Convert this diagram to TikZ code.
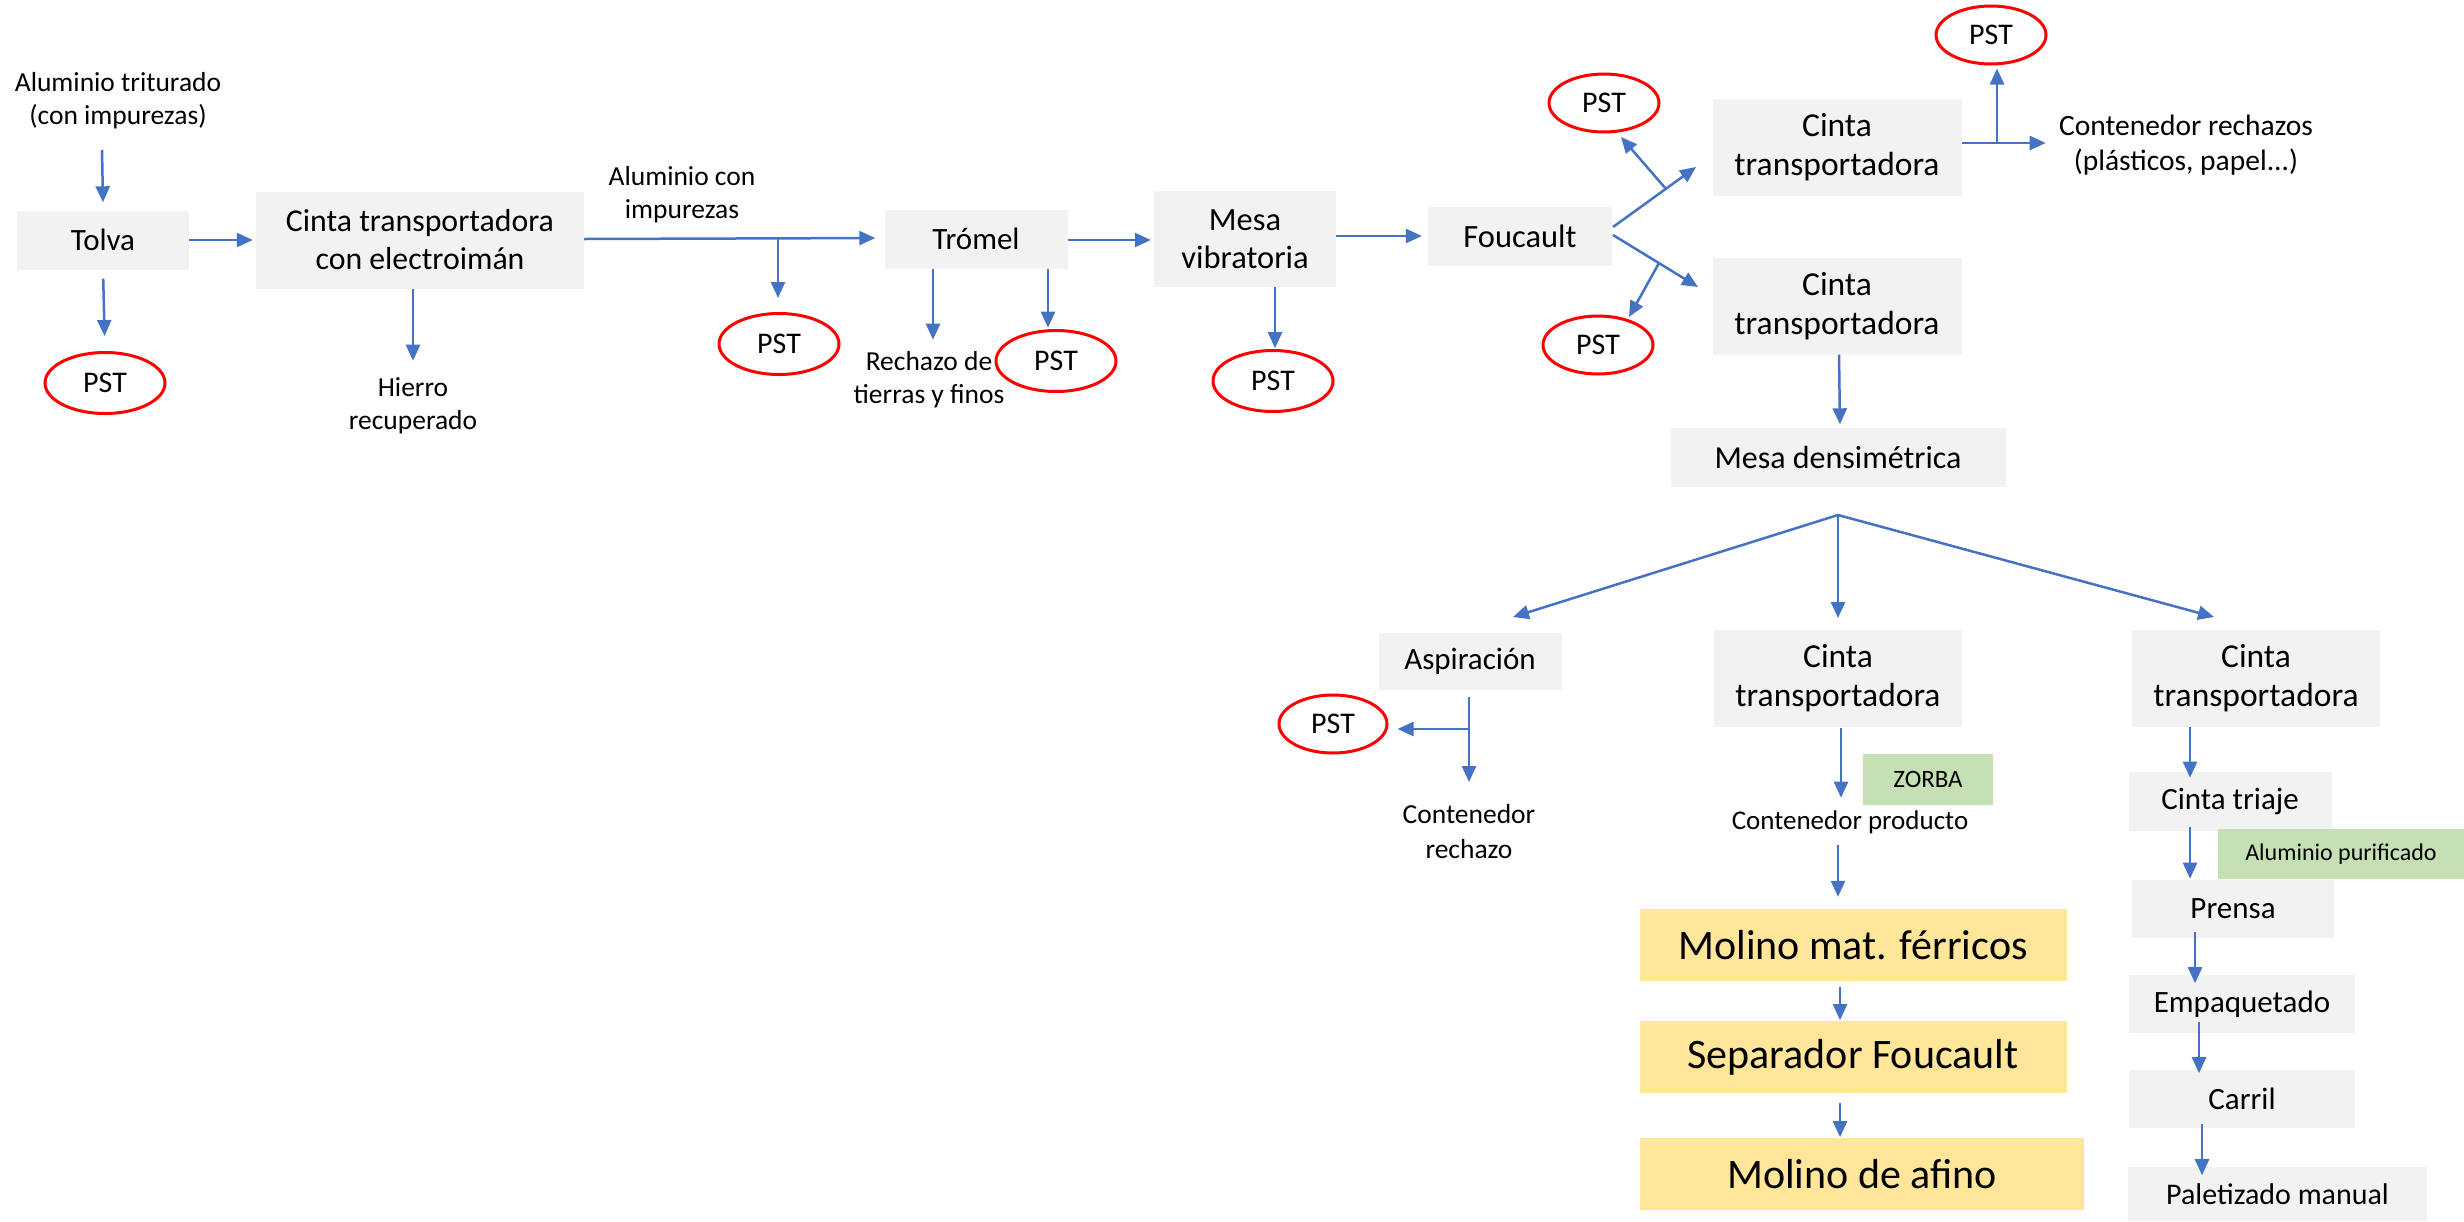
\documentclass[tikz,border=0pt]{standalone}
\usepackage{fontspec}
\setmainfont{Carlito}
\usetikzlibrary{arrows.meta,shapes.geometric}
\definecolor{boxgray}{HTML}{F2F2F2}
\definecolor{arrblue}{HTML}{4472C4}
\definecolor{pstred}{HTML}{FF0000}
\definecolor{yelbox}{HTML}{FFE699}
\definecolor{grnbox}{HTML}{C5E0B4}
\begin{document}
\begin{tikzpicture}[x=1pt,y=-1pt,
  box/.style={fill=boxgray, inner sep=0pt, align=center, font=\fontsize{31}{37}\selectfont},
  cbox/.style={box, font=\fontsize{33.5}{39}\selectfont},
  ybox/.style={fill=yelbox, inner sep=0pt, align=center, font=\fontsize{42}{50}\selectfont},
  gbox/.style={fill=grnbox, inner sep=0pt, align=center},
  pst/.style={ellipse, draw=pstred, line width=3pt, inner sep=0pt, font=\fontsize{30}{36}\selectfont},
  lbl/.style={inner sep=0pt, align=center, font=\fontsize{27.5}{33}\selectfont},
  arr/.style={draw=arrblue, line width=2.5pt, -{Triangle[length=16pt,width=14pt]}}]
\useasboundingbox (0,0) rectangle (2464,1221);

% ---- boxes ----
\node[box, minimum width=172pt, minimum height=59pt] (tolva) at (103,240) {Tolva};
\node[box, font=\fontsize{31.8}{38}\selectfont, minimum width=328pt, minimum height=97pt] (cinta1) at (420,240) {Cinta transportadora\\con electroimán};
\node[box, minimum width=183pt, minimum height=59pt] (tromel) at (976,239) {Trómel};
\node[box, font=\fontsize{32.5}{38}\selectfont, minimum width=182pt, minimum height=96pt] (mesa) at (1245,239) {Mesa\\vibratoria};
\node[box, font=\fontsize{32.5}{38}\selectfont, minimum width=184pt, minimum height=59pt] (foucault) at (1520,236) {Foucault};
\node[cbox, minimum width=249pt, minimum height=97pt] (cintaA) at (1837,147) {Cinta\\transportadora};
\node[cbox, minimum width=249pt, minimum height=97pt] (cintaB) at (1837,306) {Cinta\\transportadora};
\node[box, font=\fontsize{32}{38}\selectfont, minimum width=335pt, minimum height=59pt] (densi) at (1838,457) {Mesa densimétrica};
\node[box, minimum width=183pt, minimum height=57pt] (aspir) at (1470,661) {Aspiración};
\node[cbox, minimum width=248pt, minimum height=97pt] (cintaC) at (1838,678) {Cinta\\transportadora};
\node[cbox, minimum width=248pt, minimum height=97pt] (cintaD) at (2256,678) {Cinta\\transportadora};
\node[box, minimum width=203pt, minimum height=59pt] (triaje) at (2230,801) {Cinta triaje};
\node[gbox, minimum width=247pt, minimum height=50pt, font=\fontsize{24}{29}\selectfont] (alpur) at (2341,854) {Aluminio purificado};
\node[box, minimum width=202pt, minimum height=58pt] (prensa) at (2233,909) {Prensa};
\node[box, minimum width=226pt, minimum height=58pt] (empaq) at (2242,1004) {Empaquetado};
\node[box, minimum width=226pt, minimum height=58pt] (carril) at (2242,1099) {Carril};
\node[box, font=\fontsize{30}{36}\selectfont, minimum width=299pt, minimum height=54pt, text depth=0pt] (palet) at (2277.5,1194) {Paletizado manual};
\node[gbox, minimum width=130pt, minimum height=51pt, font=\fontsize{25}{30}\selectfont] (zorba) at (1928,779) {ZORBA};
\node[ybox, minimum width=427pt, minimum height=72pt] (molino1) at (1853,945) {Molino mat. férricos};
\node[ybox, minimum width=427pt, minimum height=72pt] (separ) at (1853,1057) {Separador Foucault};
\node[ybox, minimum width=444pt, minimum height=72pt] (molino2) at (1862,1174) {Molino de afino};

% ---- PST ellipses ----
\node[pst, minimum width=120pt, minimum height=61pt] (pst1) at (105,383) {PST};
\node[pst, minimum width=120pt, minimum height=61pt] (pst2) at (779,344) {PST};
\node[pst, minimum width=120pt, minimum height=61pt] (pst3) at (1056,361) {PST};
\node[pst, minimum width=120pt, minimum height=61pt] (pst4) at (1273,381) {PST};
\node[pst, minimum width=110pt, minimum height=58pt] (pst5) at (1604,103) {PST};
\node[pst, minimum width=110pt, minimum height=58pt] (pst6) at (1598,345) {PST};
\node[pst, minimum width=110pt, minimum height=58pt] (pst7) at (1991,35) {PST};
\node[pst, minimum width=108pt, minimum height=58pt] (pst8) at (1333,724) {PST};

% ---- free labels ----
\node[lbl] (altri) at (118,101) {Aluminio triturado\\(con impurezas)};
\node[lbl] (hierro) at (413,406) {Hierro\\recuperado};
\node[lbl] (alcon) at (682,195) {Aluminio con\\impurezas};
\node[lbl] (rechazo) at (929,380) {Rechazo de\\tierras y finos};
\node[lbl, font=\fontsize{29.5}{35}\selectfont] (contrech) at (2186,145) {Contenedor rechazos\\(plásticos, papel...)};
\node[lbl, font=\fontsize{27.5}{35}\selectfont] (contr2) at (1469,832) {Contenedor\\rechazo};
\node[lbl, font=\fontsize{27}{32}\selectfont] (contprod) at (1850,822) {Contenedor producto};

% ---- coordinates ----
\coordinate (inA) at (102,150);
\coordinate (br1) at (778,239);
\coordinate (fuA) at (1613,227);
\coordinate (fuAe) at (1696,167);
\coordinate (brA) at (1666,189);
\coordinate (brAe) at (1621,137);
\coordinate (fuB) at (1613,235);
\coordinate (fuBe) at (1698,287);
\coordinate (brB) at (1659,263);
\coordinate (brBe) at (1629,317);
\coordinate (br2) at (1997,143);
\coordinate (apex) at (1838,515);
\coordinate (apL) at (1513,617);
\coordinate (apM) at (1838,618);
\coordinate (apR) at (2214,617);
\coordinate (asp1) at (1469,697);
\coordinate (br3) at (1469,729);
\coordinate (prod1) at (1838,845);

% ---- connectors ----
\draw[arr] (inA) -- ([yshift=8pt]tolva.north);
\draw[arr, shorten <=9pt, shorten >=15pt] (tolva.south) -- (pst1.north);
\draw[arr, shorten >=3pt] (tolva.east) -- (cinta1.west);
\draw[arr] ([xshift=-7pt]cinta1.south) -- ++(0,72);
\draw[arr, shorten >=9pt] ([yshift=1pt]cinta1.east) -- ([yshift=1pt]tromel.west);
\draw[arr, shorten >=14pt] (br1) -- (br1 |- pst2.north);
\draw[arr] ([xshift=-43pt]tromel.south) -- ++(0,71);
\draw[arr] ([xshift=72pt]tromel.south) -- ++(0,59);
\draw[arr, shorten >=3pt] ([yshift=-1pt]tromel.east) -- ([yshift=-1pt]mesa.west);
\draw[arr] ([xshift=30pt]mesa.south) -- ++(0,61);
\draw[arr, shorten >=6pt] (mesa.east |- foucault.west) -- (foucault.west);
\draw[arr] (fuA) -- (fuAe);
\draw[arr] (brA) -- (brAe);
\draw[arr] (fuB) -- (fuBe);
\draw[arr] (brB) -- (brBe);
\draw[arr] ([yshift=4pt]cintaA.east) -- ++(84,0);
\draw[arr, shorten >=3pt] (br2) -- (br2 |- pst7.south);
\draw[arr, shorten >=3pt] ([xshift=2pt]cintaB.south) -- ([xshift=2pt]densi.north);
\draw[arr] (apex) -- (apL);
\draw[arr] (apex) -- (apM);
\draw[arr] (apex) -- (apR);
\draw[arr] (asp1) -- ++(0,85);
\draw[arr, shorten >=9pt] (br3) -- (br3 -| pst8.east);
\draw[arr] ([xshift=3pt,yshift=-1pt]cintaC.south) -- ++(0,70);
\draw[arr, shorten >=12pt] (prod1) -- (prod1 |- molino1.north);
\draw[arr] ([xshift=-13pt,yshift=-6pt]molino1.south) -- ++(0,33);
\draw[arr] ([xshift=-13pt,yshift=-10pt]separ.south) -- ++(0,34);
\draw[arr] ([xshift=-66pt]cintaD.south) -- ++(0,51);
\draw[arr] ([xshift=-40pt,yshift=4pt]triaje.south) -- ++(0,52);
\draw[arr] ([xshift=-38pt,yshift=6pt]prensa.south) -- ++(0,51);
\draw[arr] ([xshift=-43pt,yshift=11pt]empaq.south) -- ++(0,51);
\draw[arr] ([xshift=-40pt,yshift=4pt]carril.south) -- ++(0,51);
\end{tikzpicture}
\end{document}
